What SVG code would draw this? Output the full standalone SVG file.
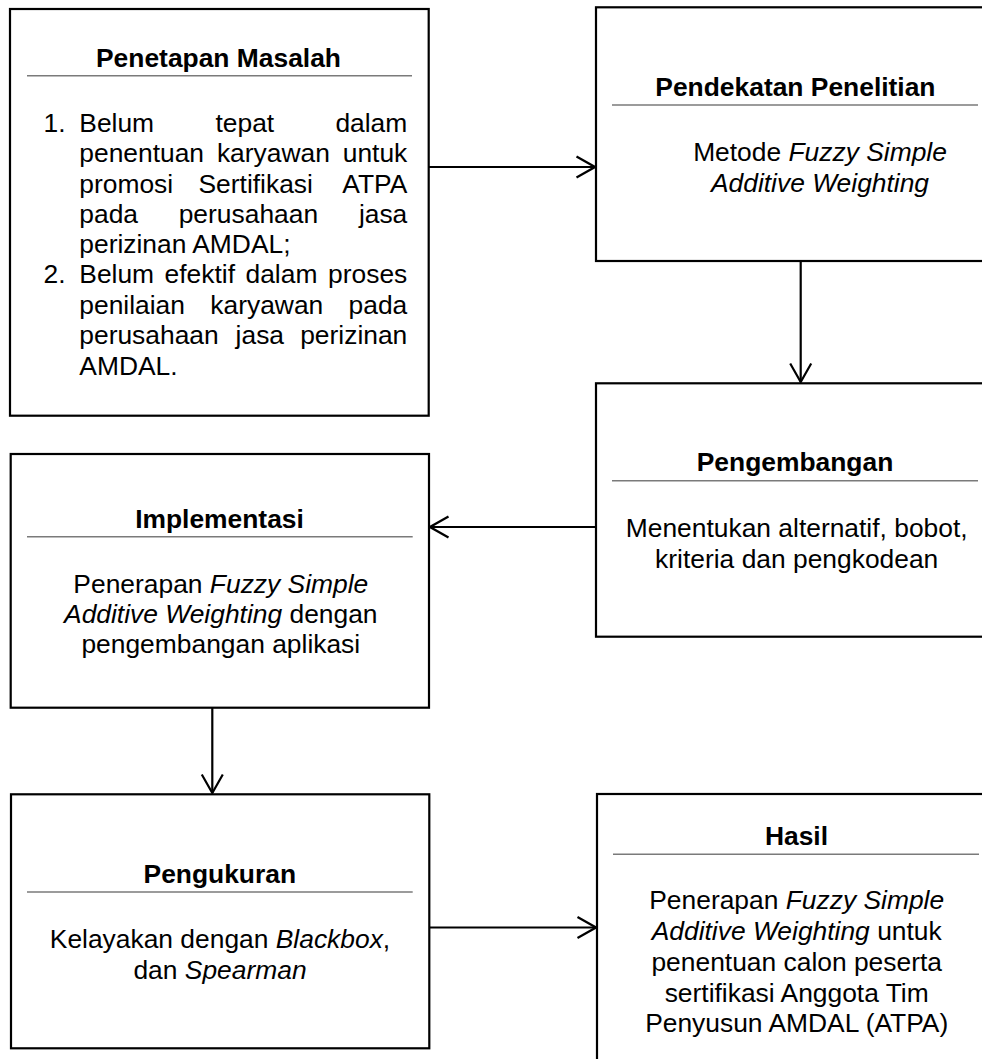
<svg xmlns="http://www.w3.org/2000/svg" width="982" height="1059" viewBox="0 0 982 1059">
<style>
  .box { fill: #ffffff; stroke: #000000; stroke-width: 2.2; }
  .rule { stroke: #7a7a7a; stroke-width: 1.4; }
  .t { font-family: "Liberation Sans", Arial, sans-serif; font-size: 26.4px; fill: #000000; }
  .h { font-weight: bold; text-anchor: middle; }
  .c { text-anchor: middle; }
  .e { text-anchor: end; }
  .i { font-style: italic; }
  .conn { stroke: #000000; stroke-width: 2.2; fill: none; }
</style>
<defs>
  <marker id="arr" markerUnits="userSpaceOnUse" viewBox="0 0 22 24" markerWidth="22" markerHeight="24" refX="20" refY="12" orient="auto">
    <path d="M1.5,1.5 L20,12 L1.5,22.5" fill="none" stroke="#000000" stroke-width="2.2"/>
  </marker>
</defs>

<g id="connectors">
  <line class="conn" x1="429" y1="167" x2="595" y2="167" marker-end="url(#arr)"/>
  <line class="conn" x1="800.7" y1="261" x2="800.7" y2="382" marker-end="url(#arr)"/>
  <line class="conn" x1="596" y1="527" x2="430" y2="527" marker-end="url(#arr)"/>
  <line class="conn" x1="212.3" y1="708" x2="212.3" y2="793" marker-end="url(#arr)"/>
  <line class="conn" x1="429" y1="927.5" x2="596" y2="927.5" marker-end="url(#arr)"/>
</g>

<g id="node-penetapan">
  <rect class="box" x="10" y="9" width="418.7" height="406.7"/>
  <text class="t h" x="218.5" y="67">Penetapan Masalah</text>
  <line class="rule" x1="27" y1="75.7" x2="412" y2="75.7"/>
  <text class="t" x="43.5" y="131.7">1.</text>
  <text class="t" x="79.3" y="131.7">Belum</text>
  <text class="t" x="215.5" y="131.7">tepat</text>
  <text class="t e" x="407.3" y="131.7">dalam</text>
  <text class="t" x="79.3" y="162.1">penentuan</text>
  <text class="t" x="216.9" y="162.1">karyawan</text>
  <text class="t e" x="407.3" y="162.1">untuk</text>
  <text class="t" x="79.3" y="192.5">promosi</text>
  <text class="t" x="198.5" y="192.5">Sertifikasi</text>
  <text class="t e" x="407.3" y="192.5">ATPA</text>
  <text class="t" x="79.3" y="222.9">pada</text>
  <text class="t" x="178.7" y="222.9">perusahaan</text>
  <text class="t e" x="407.3" y="222.9">jasa</text>
  <text class="t" x="79.3" y="253.3">perizinan AMDAL;</text>
  <text class="t" x="43.5" y="283.2">2.</text>
  <text class="t" x="79.3" y="283.2">Belum</text>
  <text class="t" x="164.6" y="283.2">efektif</text>
  <text class="t" x="245.5" y="283.2">dalam</text>
  <text class="t e" x="407.3" y="283.2">proses</text>
  <text class="t" x="79.3" y="313.8">penilaian</text>
  <text class="t" x="210.3" y="313.8">karyawan</text>
  <text class="t e" x="407.3" y="313.8">pada</text>
  <text class="t" x="79.3" y="344.4">perusahaan</text>
  <text class="t" x="235.6" y="344.4">jasa</text>
  <text class="t e" x="407.3" y="344.4">perizinan</text>
  <text class="t" x="79.3" y="375">AMDAL.</text>
</g>

<g id="node-pendekatan">
  <rect class="box" x="596" y="7.3" width="400" height="253.7"/>
  <text class="t h" x="795.4" y="96">Pendekatan Penelitian</text>
  <line class="rule" x1="612" y1="105" x2="978" y2="105"/>
  <text class="t c" x="820" y="161">Metode <tspan class="i">Fuzzy Simple</tspan></text>
  <text class="t c i" x="820" y="191.7">Additive Weighting</text>
</g>

<g id="node-pengembangan">
  <rect class="box" x="596" y="383.3" width="400" height="253.4"/>
  <text class="t h" x="795" y="471">Pengembangan</text>
  <line class="rule" x1="612" y1="480.7" x2="978" y2="480.7"/>
  <text class="t c" x="796.7" y="537">Menentukan alternatif, bobot,</text>
  <text class="t c" x="796.7" y="567.5">kriteria dan pengkodean</text>
</g>

<g id="node-implementasi">
  <rect class="box" x="10.7" y="454" width="418.3" height="253.7"/>
  <text class="t h" x="219.5" y="528.3">Implementasi</text>
  <line class="rule" x1="27" y1="536.7" x2="412.7" y2="536.7"/>
  <text class="t c" x="220.8" y="592.7">Penerapan <tspan class="i">Fuzzy Simple</tspan></text>
  <text class="t c" x="220.8" y="622.9"><tspan class="i">Additive Weighting</tspan> dengan</text>
  <text class="t c" x="220.8" y="653.2">pengembangan aplikasi</text>
</g>

<g id="node-pengukuran">
  <rect class="box" x="11" y="794.3" width="418.3" height="254"/>
  <text class="t h" x="219.8" y="882.7">Pengukuran</text>
  <line class="rule" x1="27" y1="892" x2="412.7" y2="892"/>
  <text class="t c" x="220" y="948.3">Kelayakan dengan <tspan class="i">Blackbox</tspan>,</text>
  <text class="t c" x="220" y="978.5">dan <tspan class="i">Spearman</tspan></text>
</g>

<g id="node-hasil">
  <rect class="box" x="597" y="794" width="400" height="280"/>
  <text class="t h" x="796.5" y="845">Hasil</text>
  <line class="rule" x1="613" y1="854.3" x2="979" y2="854.3"/>
  <text class="t c" x="796.7" y="909">Penerapan <tspan class="i">Fuzzy Simple</tspan></text>
  <text class="t c" x="796.7" y="940"><tspan class="i">Additive Weighting</tspan> untuk</text>
  <text class="t c" x="796.7" y="971">penentuan calon peserta</text>
  <text class="t c" x="796.7" y="1001.5">sertifikasi Anggota Tim</text>
  <text class="t c" x="796.7" y="1031.8">Penyusun AMDAL (ATPA)</text>
</g>
</svg>
